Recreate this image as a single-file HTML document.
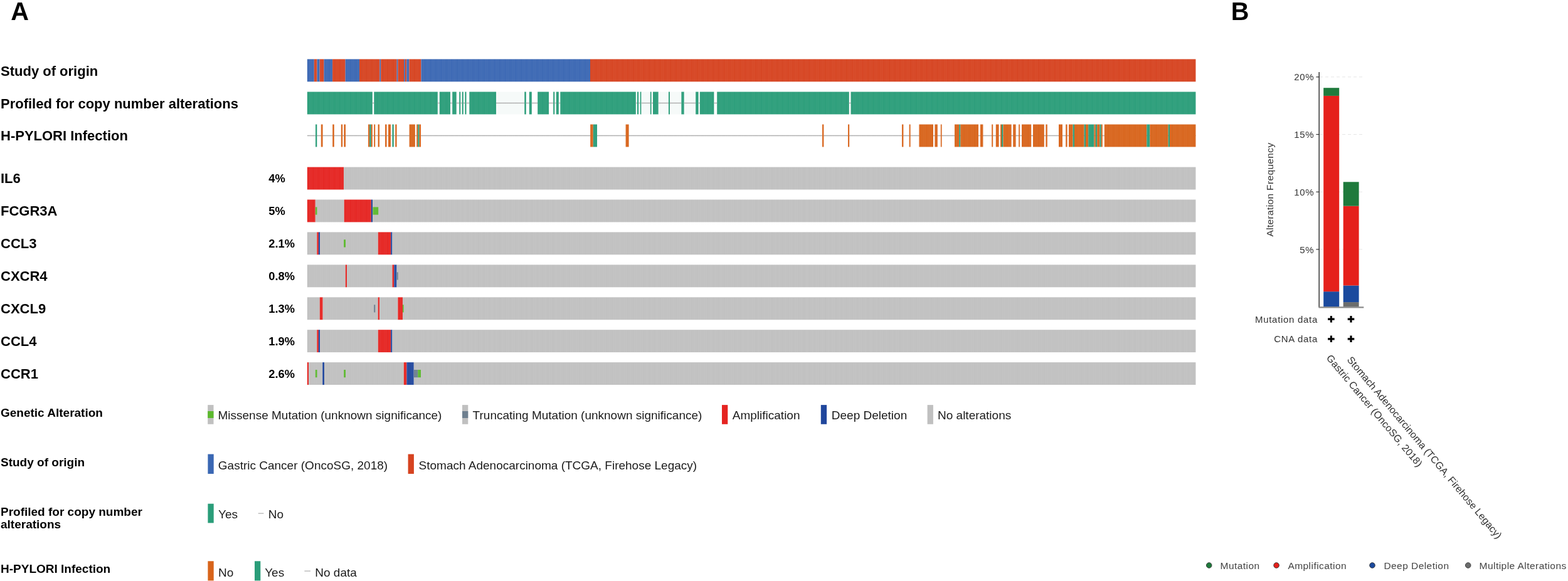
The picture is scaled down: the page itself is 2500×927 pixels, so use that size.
<!DOCTYPE html>
<html><head><meta charset="utf-8"><title>Oncoprint</title>
<style>
html,body{margin:0;padding:0;background:#fff;}
body{width:2500px;height:927px;overflow:hidden;}
svg{display:block;font-family:"Liberation Sans",Arial,sans-serif;}
</style></head><body>
<svg width="2500" height="927" viewBox="0 0 2500 927" shape-rendering="auto">
<rect width="2500" height="927" fill="#fff"/>
<text x="17.3" y="31.9" font-size="39.8" font-weight="bold" fill="#000" text-anchor="start">A</text>
<text x="1962.8" y="32.0" font-size="39.8" font-weight="bold" fill="#000" text-anchor="start">B</text>
<text x="1.0" y="120.5" font-size="22" font-weight="bold" fill="#000" text-anchor="start">Study of origin</text>
<text x="1.0" y="172.8" font-size="22" font-weight="bold" fill="#000" text-anchor="start">Profiled for copy number alterations</text>
<text x="1.0" y="224.3" font-size="22" font-weight="bold" fill="#000" text-anchor="start">H-PYLORI Infection</text>
<text x="1.0" y="292.3" font-size="22" font-weight="bold" fill="#000" text-anchor="start">IL6</text>
<text x="428.3" y="291.1" font-size="18.3" font-weight="bold" fill="#000" text-anchor="start">4%</text>
<text x="1.0" y="344.22" font-size="22" font-weight="bold" fill="#000" text-anchor="start">FCGR3A</text>
<text x="428.3" y="343.02000000000004" font-size="18.3" font-weight="bold" fill="#000" text-anchor="start">5%</text>
<text x="1.0" y="396.14" font-size="22" font-weight="bold" fill="#000" text-anchor="start">CCL3</text>
<text x="428.3" y="394.94" font-size="18.3" font-weight="bold" fill="#000" text-anchor="start">2.1%</text>
<text x="1.0" y="448.06" font-size="22" font-weight="bold" fill="#000" text-anchor="start">CXCR4</text>
<text x="428.3" y="446.86" font-size="18.3" font-weight="bold" fill="#000" text-anchor="start">0.8%</text>
<text x="1.0" y="499.98" font-size="22" font-weight="bold" fill="#000" text-anchor="start">CXCL9</text>
<text x="428.3" y="498.78000000000003" font-size="18.3" font-weight="bold" fill="#000" text-anchor="start">1.3%</text>
<text x="1.0" y="551.9000000000001" font-size="22" font-weight="bold" fill="#000" text-anchor="start">CCL4</text>
<text x="428.3" y="550.7" font-size="18.3" font-weight="bold" fill="#000" text-anchor="start">1.9%</text>
<text x="1.0" y="603.8199999999999" font-size="22" font-weight="bold" fill="#000" text-anchor="start">CCR1</text>
<text x="428.3" y="602.6199999999999" font-size="18.3" font-weight="bold" fill="#000" text-anchor="start">2.6%</text>
<rect x="489.9" y="94.4" width="10.9" height="35.9" fill="#3a67b3"/>
<rect x="500.8" y="94.4" width="4.7" height="35.9" fill="#d64320"/>
<rect x="505.5" y="94.4" width="4.2" height="35.9" fill="#3a67b3"/>
<rect x="509.7" y="94.4" width="6.8" height="35.9" fill="#d64320"/>
<rect x="516.5" y="94.4" width="13.6" height="35.9" fill="#3a67b3"/>
<rect x="530.1" y="94.4" width="20.5" height="35.9" fill="#d64320"/>
<rect x="550.6" y="94.4" width="22.4" height="35.9" fill="#3a67b3"/>
<rect x="573.0" y="94.4" width="32.4" height="35.9" fill="#d64320"/>
<rect x="605.4" y="94.4" width="1.8" height="35.9" fill="#3a67b3"/>
<rect x="607.2" y="94.4" width="25.5" height="35.9" fill="#d64320"/>
<rect x="632.7" y="94.4" width="1.8" height="35.9" fill="#3a67b3"/>
<rect x="634.5" y="94.4" width="9.6" height="35.9" fill="#d64320"/>
<rect x="644.1" y="94.4" width="1.8" height="35.9" fill="#3a67b3"/>
<rect x="645.9" y="94.4" width="2.4" height="35.9" fill="#d64320"/>
<rect x="648.3" y="94.4" width="4.2" height="35.9" fill="#3a67b3"/>
<rect x="652.5" y="94.4" width="18.9" height="35.9" fill="#d64320"/>
<rect x="671.4" y="94.4" width="269.6" height="35.9" fill="#3a67b3"/>
<rect x="941.0" y="94.4" width="965.4" height="35.9" fill="#d64320"/>
<rect x="489.9" y="146.5" width="103.9" height="35.9" fill="#2a9d79"/>
<rect x="593.8" y="163.7" width="2.5" height="1.5" fill="#adadad"/>
<rect x="596.3" y="146.5" width="101.5" height="35.9" fill="#2a9d79"/>
<rect x="697.8" y="163.7" width="3.0" height="1.5" fill="#adadad"/>
<rect x="700.8" y="146.5" width="17.2" height="35.9" fill="#2a9d79"/>
<rect x="718.0" y="163.7" width="3.2" height="1.5" fill="#adadad"/>
<rect x="721.2" y="146.5" width="6.5" height="35.9" fill="#2a9d79"/>
<rect x="727.7" y="163.7" width="4.5" height="1.5" fill="#adadad"/>
<rect x="732.2" y="146.5" width="2.1" height="35.9" fill="#2a9d79"/>
<rect x="734.3" y="163.7" width="2.4" height="1.5" fill="#adadad"/>
<rect x="736.7" y="146.5" width="2.1" height="35.9" fill="#2a9d79"/>
<rect x="738.8" y="163.7" width="2.5" height="1.5" fill="#adadad"/>
<rect x="741.3" y="146.5" width="2.2" height="35.9" fill="#2a9d79"/>
<rect x="743.5" y="163.7" width="4.8" height="1.5" fill="#adadad"/>
<rect x="748.3" y="146.5" width="42.7" height="35.9" fill="#2a9d79"/>
<rect x="791.0" y="146.5" width="45.2" height="35.9" fill="#f6faf9"/>
<rect x="791.0" y="163.7" width="45.2" height="1.5" fill="#adadad"/>
<rect x="836.2" y="146.5" width="2.6" height="35.9" fill="#2a9d79"/>
<rect x="838.8" y="163.7" width="5.0" height="1.5" fill="#adadad"/>
<rect x="843.8" y="146.5" width="4.0" height="35.9" fill="#2a9d79"/>
<rect x="847.8" y="163.7" width="9.4" height="1.5" fill="#adadad"/>
<rect x="857.2" y="146.5" width="17.8" height="35.9" fill="#2a9d79"/>
<rect x="875.0" y="163.7" width="7.2" height="1.5" fill="#adadad"/>
<rect x="882.2" y="146.5" width="2.1" height="35.9" fill="#2a9d79"/>
<rect x="884.3" y="163.7" width="2.5" height="1.5" fill="#adadad"/>
<rect x="886.8" y="146.5" width="4.0" height="35.9" fill="#2a9d79"/>
<rect x="890.8" y="163.7" width="2.5" height="1.5" fill="#adadad"/>
<rect x="893.3" y="146.5" width="120.5" height="35.9" fill="#2a9d79"/>
<rect x="1013.8" y="163.7" width="2.2" height="1.5" fill="#adadad"/>
<rect x="1016.0" y="146.5" width="2.2" height="35.9" fill="#2a9d79"/>
<rect x="1018.2" y="163.7" width="2.4" height="1.5" fill="#adadad"/>
<rect x="1020.6" y="146.5" width="2.0" height="35.9" fill="#2a9d79"/>
<rect x="1022.6" y="146.5" width="14.2" height="35.9" fill="#f6faf9"/>
<rect x="1022.6" y="163.7" width="14.2" height="1.5" fill="#adadad"/>
<rect x="1036.8" y="146.5" width="1.8" height="35.9" fill="#2a9d79"/>
<rect x="1038.6" y="163.7" width="2.4" height="1.5" fill="#adadad"/>
<rect x="1041.0" y="146.5" width="8.8" height="35.9" fill="#2a9d79"/>
<rect x="1049.8" y="146.5" width="16.2" height="35.9" fill="#f6faf9"/>
<rect x="1049.8" y="163.7" width="16.2" height="1.5" fill="#adadad"/>
<rect x="1066.0" y="146.5" width="2.0" height="35.9" fill="#2a9d79"/>
<rect x="1068.0" y="146.5" width="18.4" height="35.9" fill="#f6faf9"/>
<rect x="1068.0" y="163.7" width="18.4" height="1.5" fill="#adadad"/>
<rect x="1086.4" y="146.5" width="4.4" height="35.9" fill="#2a9d79"/>
<rect x="1090.8" y="146.5" width="18.4" height="35.9" fill="#f6faf9"/>
<rect x="1090.8" y="163.7" width="18.4" height="1.5" fill="#adadad"/>
<rect x="1109.2" y="146.5" width="4.4" height="35.9" fill="#2a9d79"/>
<rect x="1113.6" y="163.7" width="2.2" height="1.5" fill="#adadad"/>
<rect x="1115.8" y="146.5" width="22.6" height="35.9" fill="#2a9d79"/>
<rect x="1138.4" y="163.7" width="4.8" height="1.5" fill="#adadad"/>
<rect x="1143.2" y="146.5" width="210.6" height="35.9" fill="#2a9d79"/>
<rect x="1353.8" y="163.7" width="2.7" height="1.5" fill="#adadad"/>
<rect x="1356.5" y="146.5" width="549.9" height="35.9" fill="#2a9d79"/>
<rect x="489.9" y="215.7" width="1416.5" height="1.5" fill="#adadad"/>
<rect x="503.0" y="198.5" width="2.4" height="35.9" fill="#2a9d79"/>
<rect x="511.8" y="198.5" width="2.8" height="35.9" fill="#d8641b"/>
<rect x="530.2" y="198.5" width="2.6" height="35.9" fill="#d8641b"/>
<rect x="543.8" y="198.5" width="2.4" height="35.9" fill="#d8641b"/>
<rect x="548.4" y="198.5" width="2.6" height="35.9" fill="#d8641b"/>
<rect x="587.0" y="198.5" width="2.2" height="35.9" fill="#d8641b"/>
<rect x="589.2" y="198.5" width="2.6" height="35.9" fill="#2a9d79"/>
<rect x="591.8" y="198.5" width="2.0" height="35.9" fill="#d8641b"/>
<rect x="596.2" y="198.5" width="2.0" height="35.9" fill="#d8641b"/>
<rect x="602.6" y="198.5" width="2.4" height="35.9" fill="#d8641b"/>
<rect x="614.0" y="198.5" width="2.6" height="35.9" fill="#d8641b"/>
<rect x="619.0" y="198.5" width="4.0" height="35.9" fill="#d8641b"/>
<rect x="625.4" y="198.5" width="2.4" height="35.9" fill="#2a9d79"/>
<rect x="630.2" y="198.5" width="2.4" height="35.9" fill="#d8641b"/>
<rect x="652.6" y="198.5" width="9.2" height="35.9" fill="#d8641b"/>
<rect x="664.2" y="198.5" width="2.0" height="35.9" fill="#d8641b"/>
<rect x="666.2" y="198.5" width="2.4" height="35.9" fill="#2a9d79"/>
<rect x="668.6" y="198.5" width="2.4" height="35.9" fill="#d8641b"/>
<rect x="941.2" y="198.5" width="4.6" height="35.9" fill="#d8641b"/>
<rect x="945.8" y="198.5" width="6.2" height="35.9" fill="#2a9d79"/>
<rect x="997.6" y="198.5" width="5.0" height="35.9" fill="#d8641b"/>
<rect x="1311.0" y="198.5" width="2.4" height="35.9" fill="#d8641b"/>
<rect x="1352.0" y="198.5" width="2.2" height="35.9" fill="#d8641b"/>
<rect x="1438.0" y="198.5" width="2.4" height="35.9" fill="#d8641b"/>
<rect x="1449.6" y="198.5" width="2.0" height="35.9" fill="#d8641b"/>
<rect x="1465.4" y="198.5" width="22.6" height="35.9" fill="#d8641b"/>
<rect x="1490.4" y="198.5" width="4.4" height="35.9" fill="#d8641b"/>
<rect x="1499.8" y="198.5" width="1.8" height="35.9" fill="#d8641b"/>
<rect x="1522.0" y="198.5" width="7.2" height="35.9" fill="#d8641b"/>
<rect x="1529.2" y="198.5" width="2.2" height="35.9" fill="#2a9d79"/>
<rect x="1531.4" y="198.5" width="28.6" height="35.9" fill="#d8641b"/>
<rect x="1563.0" y="198.5" width="4.4" height="35.9" fill="#d8641b"/>
<rect x="1581.2" y="198.5" width="2.0" height="35.9" fill="#d8641b"/>
<rect x="1587.8" y="198.5" width="4.8" height="35.9" fill="#d8641b"/>
<rect x="1595.0" y="198.5" width="2.0" height="35.9" fill="#d8641b"/>
<rect x="1597.0" y="198.5" width="2.4" height="35.9" fill="#2a9d79"/>
<rect x="1599.4" y="198.5" width="13.2" height="35.9" fill="#d8641b"/>
<rect x="1615.2" y="198.5" width="4.4" height="35.9" fill="#d8641b"/>
<rect x="1624.2" y="198.5" width="1.8" height="35.9" fill="#d8641b"/>
<rect x="1629.0" y="198.5" width="15.2" height="35.9" fill="#d8641b"/>
<rect x="1647.0" y="198.5" width="17.8" height="35.9" fill="#d8641b"/>
<rect x="1667.4" y="198.5" width="2.4" height="35.9" fill="#d8641b"/>
<rect x="1688.0" y="198.5" width="6.0" height="35.9" fill="#d8641b"/>
<rect x="1699.2" y="198.5" width="2.4" height="35.9" fill="#d8641b"/>
<rect x="1704.0" y="198.5" width="6.6" height="35.9" fill="#d8641b"/>
<rect x="1710.6" y="198.5" width="2.4" height="35.9" fill="#2a9d79"/>
<rect x="1713.0" y="198.5" width="15.6" height="35.9" fill="#d8641b"/>
<rect x="1728.6" y="198.5" width="2.4" height="35.9" fill="#2a9d79"/>
<rect x="1731.0" y="198.5" width="4.2" height="35.9" fill="#d8641b"/>
<rect x="1735.2" y="198.5" width="9.2" height="35.9" fill="#2a9d79"/>
<rect x="1744.4" y="198.5" width="2.4" height="35.9" fill="#d8641b"/>
<rect x="1746.8" y="198.5" width="2.4" height="35.9" fill="#2a9d79"/>
<rect x="1749.2" y="198.5" width="4.2" height="35.9" fill="#d8641b"/>
<rect x="1753.4" y="198.5" width="2.4" height="35.9" fill="#2a9d79"/>
<rect x="1755.8" y="198.5" width="2.0" height="35.9" fill="#d8641b"/>
<rect x="1760.8" y="198.5" width="67.5" height="35.9" fill="#d8641b"/>
<rect x="1828.3" y="198.5" width="5.0" height="35.9" fill="#2a9d79"/>
<rect x="1833.3" y="198.5" width="29.4" height="35.9" fill="#d8641b"/>
<rect x="1862.7" y="198.5" width="2.3" height="35.9" fill="#2a9d79"/>
<rect x="1865.0" y="198.5" width="41.4" height="35.9" fill="#d8641b"/>
<rect x="489.9" y="266.6" width="58.2" height="35.9" fill="#e52421"/>
<rect x="548.1" y="266.6" width="1358.3" height="35.9" fill="#c0c0c0"/>
<rect x="489.9" y="318.5" width="12.9" height="35.9" fill="#e52421"/>
<rect x="502.8" y="318.5" width="45.9" height="35.9" fill="#c0c0c0"/>
<rect x="548.7" y="318.5" width="43.1" height="35.9" fill="#e52421"/>
<rect x="591.8" y="318.5" width="2.2" height="35.9" fill="#21479d"/>
<rect x="594.0" y="318.5" width="1312.4" height="35.9" fill="#c0c0c0"/>
<rect x="502.8" y="330.4" width="2.7" height="12.2" fill="#5cb92e"/>
<rect x="594.5" y="330.4" width="8.7" height="12.2" fill="#5cb92e"/>
<rect x="489.9" y="370.4" width="15.4" height="35.9" fill="#c0c0c0"/>
<rect x="505.3" y="370.4" width="2.6" height="35.9" fill="#e52421"/>
<rect x="507.9" y="370.4" width="2.5" height="35.9" fill="#21479d"/>
<rect x="510.4" y="370.4" width="92.4" height="35.9" fill="#c0c0c0"/>
<rect x="602.8" y="370.4" width="20.3" height="35.9" fill="#e52421"/>
<rect x="623.1" y="370.4" width="2.4" height="35.9" fill="#21479d"/>
<rect x="625.5" y="370.4" width="1280.9" height="35.9" fill="#c0c0c0"/>
<rect x="548.1" y="382.3" width="2.9" height="12.2" fill="#5cb92e"/>
<rect x="489.9" y="422.4" width="60.9" height="35.9" fill="#c0c0c0"/>
<rect x="550.8" y="422.4" width="2.2" height="35.9" fill="#e52421"/>
<rect x="553.0" y="422.4" width="72.5" height="35.9" fill="#c0c0c0"/>
<rect x="625.5" y="422.4" width="2.8" height="35.9" fill="#e52421"/>
<rect x="628.3" y="422.4" width="4.3" height="35.9" fill="#21479d"/>
<rect x="632.6" y="422.4" width="1273.8" height="35.9" fill="#c0c0c0"/>
<rect x="632.6" y="434.3" width="2.1" height="12.2" fill="#6e7f8f"/>
<rect x="489.9" y="474.3" width="19.9" height="35.9" fill="#c0c0c0"/>
<rect x="509.8" y="474.3" width="4.9" height="35.9" fill="#e52421"/>
<rect x="514.7" y="474.3" width="87.9" height="35.9" fill="#c0c0c0"/>
<rect x="602.6" y="474.3" width="2.7" height="35.9" fill="#e52421"/>
<rect x="605.3" y="474.3" width="29.1" height="35.9" fill="#c0c0c0"/>
<rect x="634.4" y="474.3" width="7.6" height="35.9" fill="#e52421"/>
<rect x="642.0" y="474.3" width="1264.4" height="35.9" fill="#c0c0c0"/>
<rect x="596.1" y="486.2" width="2.2" height="12.2" fill="#6e7f8f"/>
<rect x="642.0" y="486.2" width="1.6" height="12.2" fill="#5cb92e"/>
<rect x="489.9" y="526.2" width="15.4" height="35.9" fill="#c0c0c0"/>
<rect x="505.3" y="526.2" width="2.6" height="35.9" fill="#e52421"/>
<rect x="507.9" y="526.2" width="2.5" height="35.9" fill="#21479d"/>
<rect x="510.4" y="526.2" width="92.4" height="35.9" fill="#c0c0c0"/>
<rect x="602.8" y="526.2" width="20.3" height="35.9" fill="#e52421"/>
<rect x="623.1" y="526.2" width="2.4" height="35.9" fill="#21479d"/>
<rect x="625.5" y="526.2" width="1280.9" height="35.9" fill="#c0c0c0"/>
<rect x="489.9" y="578.1" width="2.1" height="35.9" fill="#e52421"/>
<rect x="492.0" y="578.1" width="22.2" height="35.9" fill="#c0c0c0"/>
<rect x="514.2" y="578.1" width="2.8" height="35.9" fill="#21479d"/>
<rect x="517.0" y="578.1" width="126.8" height="35.9" fill="#c0c0c0"/>
<rect x="643.8" y="578.1" width="4.6" height="35.9" fill="#e52421"/>
<rect x="648.4" y="578.1" width="11.4" height="35.9" fill="#21479d"/>
<rect x="659.8" y="578.1" width="1246.6" height="35.9" fill="#c0c0c0"/>
<rect x="502.8" y="590.0" width="2.8" height="12.2" fill="#5cb92e"/>
<rect x="548.2" y="590.0" width="2.8" height="12.2" fill="#5cb92e"/>
<rect x="659.8" y="590.0" width="6.4" height="12.2" fill="#6e7f8f"/>
<rect x="666.2" y="590.0" width="4.8" height="12.2" fill="#5cb92e"/>
<defs><clipPath id="tc"><rect x="489.9" y="94.4" width="1416.5" height="35.9"/><rect x="489.9" y="146.5" width="1416.5" height="35.9"/><rect x="489.9" y="198.5" width="1416.5" height="35.9"/><rect x="489.9" y="266.6" width="1416.5" height="35.9"/><rect x="489.9" y="318.5" width="1416.5" height="35.9"/><rect x="489.9" y="370.4" width="1416.5" height="35.9"/><rect x="489.9" y="422.4" width="1416.5" height="35.9"/><rect x="489.9" y="474.3" width="1416.5" height="35.9"/><rect x="489.9" y="526.2" width="1416.5" height="35.9"/><rect x="489.9" y="578.1" width="1416.5" height="35.9"/></clipPath></defs>
<path d="M491.97 94V615h0.4V94zM494.23 94V615h0.4V94zM496.50 94V615h0.4V94zM498.77 94V615h0.4V94zM501.03 94V615h0.4V94zM503.30 94V615h0.4V94zM505.56 94V615h0.4V94zM507.83 94V615h0.4V94zM510.10 94V615h0.4V94zM512.36 94V615h0.4V94zM514.63 94V615h0.4V94zM516.90 94V615h0.4V94zM519.16 94V615h0.4V94zM521.43 94V615h0.4V94zM523.70 94V615h0.4V94zM525.96 94V615h0.4V94zM528.23 94V615h0.4V94zM530.50 94V615h0.4V94zM532.76 94V615h0.4V94zM535.03 94V615h0.4V94zM537.29 94V615h0.4V94zM539.56 94V615h0.4V94zM541.83 94V615h0.4V94zM544.09 94V615h0.4V94zM546.36 94V615h0.4V94zM548.63 94V615h0.4V94zM550.89 94V615h0.4V94zM553.16 94V615h0.4V94zM555.43 94V615h0.4V94zM557.69 94V615h0.4V94zM559.96 94V615h0.4V94zM562.22 94V615h0.4V94zM564.49 94V615h0.4V94zM566.76 94V615h0.4V94zM569.02 94V615h0.4V94zM571.29 94V615h0.4V94zM573.56 94V615h0.4V94zM575.82 94V615h0.4V94zM578.09 94V615h0.4V94zM580.36 94V615h0.4V94zM582.62 94V615h0.4V94zM584.89 94V615h0.4V94zM587.16 94V615h0.4V94zM589.42 94V615h0.4V94zM591.69 94V615h0.4V94zM593.95 94V615h0.4V94zM596.22 94V615h0.4V94zM598.49 94V615h0.4V94zM600.75 94V615h0.4V94zM603.02 94V615h0.4V94zM605.29 94V615h0.4V94zM607.55 94V615h0.4V94zM609.82 94V615h0.4V94zM612.09 94V615h0.4V94zM614.35 94V615h0.4V94zM616.62 94V615h0.4V94zM618.88 94V615h0.4V94zM621.15 94V615h0.4V94zM623.42 94V615h0.4V94zM625.68 94V615h0.4V94zM627.95 94V615h0.4V94zM630.22 94V615h0.4V94zM632.48 94V615h0.4V94zM634.75 94V615h0.4V94zM637.02 94V615h0.4V94zM639.28 94V615h0.4V94zM641.55 94V615h0.4V94zM643.82 94V615h0.4V94zM646.08 94V615h0.4V94zM648.35 94V615h0.4V94zM650.61 94V615h0.4V94zM652.88 94V615h0.4V94zM655.15 94V615h0.4V94zM657.41 94V615h0.4V94zM659.68 94V615h0.4V94zM661.95 94V615h0.4V94zM664.21 94V615h0.4V94zM666.48 94V615h0.4V94zM668.75 94V615h0.4V94zM671.01 94V615h0.4V94zM673.28 94V615h0.4V94zM675.54 94V615h0.4V94zM677.81 94V615h0.4V94zM680.08 94V615h0.4V94zM682.34 94V615h0.4V94zM684.61 94V615h0.4V94zM686.88 94V615h0.4V94zM689.14 94V615h0.4V94zM691.41 94V615h0.4V94zM693.68 94V615h0.4V94zM695.94 94V615h0.4V94zM698.21 94V615h0.4V94zM700.48 94V615h0.4V94zM702.74 94V615h0.4V94zM705.01 94V615h0.4V94zM707.27 94V615h0.4V94zM709.54 94V615h0.4V94zM711.81 94V615h0.4V94zM714.07 94V615h0.4V94zM716.34 94V615h0.4V94zM718.61 94V615h0.4V94zM720.87 94V615h0.4V94zM723.14 94V615h0.4V94zM725.41 94V615h0.4V94zM727.67 94V615h0.4V94zM729.94 94V615h0.4V94zM732.20 94V615h0.4V94zM734.47 94V615h0.4V94zM736.74 94V615h0.4V94zM739.00 94V615h0.4V94zM741.27 94V615h0.4V94zM743.54 94V615h0.4V94zM745.80 94V615h0.4V94zM748.07 94V615h0.4V94zM750.34 94V615h0.4V94zM752.60 94V615h0.4V94zM754.87 94V615h0.4V94zM757.14 94V615h0.4V94zM759.40 94V615h0.4V94zM761.67 94V615h0.4V94zM763.93 94V615h0.4V94zM766.20 94V615h0.4V94zM768.47 94V615h0.4V94zM770.73 94V615h0.4V94zM773.00 94V615h0.4V94zM775.27 94V615h0.4V94zM777.53 94V615h0.4V94zM779.80 94V615h0.4V94zM782.07 94V615h0.4V94zM784.33 94V615h0.4V94zM786.60 94V615h0.4V94zM788.86 94V615h0.4V94zM791.13 94V615h0.4V94zM793.40 94V615h0.4V94zM795.66 94V615h0.4V94zM797.93 94V615h0.4V94zM800.20 94V615h0.4V94zM802.46 94V615h0.4V94zM804.73 94V615h0.4V94zM807.00 94V615h0.4V94zM809.26 94V615h0.4V94zM811.53 94V615h0.4V94zM813.80 94V615h0.4V94zM816.06 94V615h0.4V94zM818.33 94V615h0.4V94zM820.59 94V615h0.4V94zM822.86 94V615h0.4V94zM825.13 94V615h0.4V94zM827.39 94V615h0.4V94zM829.66 94V615h0.4V94zM831.93 94V615h0.4V94zM834.19 94V615h0.4V94zM836.46 94V615h0.4V94zM838.73 94V615h0.4V94zM840.99 94V615h0.4V94zM843.26 94V615h0.4V94zM845.52 94V615h0.4V94zM847.79 94V615h0.4V94zM850.06 94V615h0.4V94zM852.32 94V615h0.4V94zM854.59 94V615h0.4V94zM856.86 94V615h0.4V94zM859.12 94V615h0.4V94zM861.39 94V615h0.4V94zM863.66 94V615h0.4V94zM865.92 94V615h0.4V94zM868.19 94V615h0.4V94zM870.46 94V615h0.4V94zM872.72 94V615h0.4V94zM874.99 94V615h0.4V94zM877.25 94V615h0.4V94zM879.52 94V615h0.4V94zM881.79 94V615h0.4V94zM884.05 94V615h0.4V94zM886.32 94V615h0.4V94zM888.59 94V615h0.4V94zM890.85 94V615h0.4V94zM893.12 94V615h0.4V94zM895.39 94V615h0.4V94zM897.65 94V615h0.4V94zM899.92 94V615h0.4V94zM902.18 94V615h0.4V94zM904.45 94V615h0.4V94zM906.72 94V615h0.4V94zM908.98 94V615h0.4V94zM911.25 94V615h0.4V94zM913.52 94V615h0.4V94zM915.78 94V615h0.4V94zM918.05 94V615h0.4V94zM920.32 94V615h0.4V94zM922.58 94V615h0.4V94zM924.85 94V615h0.4V94zM927.12 94V615h0.4V94zM929.38 94V615h0.4V94zM931.65 94V615h0.4V94zM933.91 94V615h0.4V94zM936.18 94V615h0.4V94zM938.45 94V615h0.4V94zM940.71 94V615h0.4V94zM942.98 94V615h0.4V94zM945.25 94V615h0.4V94zM947.51 94V615h0.4V94zM949.78 94V615h0.4V94zM952.05 94V615h0.4V94zM954.31 94V615h0.4V94zM956.58 94V615h0.4V94zM958.84 94V615h0.4V94zM961.11 94V615h0.4V94zM963.38 94V615h0.4V94zM965.64 94V615h0.4V94zM967.91 94V615h0.4V94zM970.18 94V615h0.4V94zM972.44 94V615h0.4V94zM974.71 94V615h0.4V94zM976.98 94V615h0.4V94zM979.24 94V615h0.4V94zM981.51 94V615h0.4V94zM983.78 94V615h0.4V94zM986.04 94V615h0.4V94zM988.31 94V615h0.4V94zM990.57 94V615h0.4V94zM992.84 94V615h0.4V94zM995.11 94V615h0.4V94zM997.37 94V615h0.4V94zM999.64 94V615h0.4V94zM1001.91 94V615h0.4V94zM1004.17 94V615h0.4V94zM1006.44 94V615h0.4V94zM1008.71 94V615h0.4V94zM1010.97 94V615h0.4V94zM1013.24 94V615h0.4V94zM1015.50 94V615h0.4V94zM1017.77 94V615h0.4V94zM1020.04 94V615h0.4V94zM1022.30 94V615h0.4V94zM1024.57 94V615h0.4V94zM1026.84 94V615h0.4V94zM1029.10 94V615h0.4V94zM1031.37 94V615h0.4V94zM1033.64 94V615h0.4V94zM1035.90 94V615h0.4V94zM1038.17 94V615h0.4V94zM1040.44 94V615h0.4V94zM1042.70 94V615h0.4V94zM1044.97 94V615h0.4V94zM1047.23 94V615h0.4V94zM1049.50 94V615h0.4V94zM1051.77 94V615h0.4V94zM1054.03 94V615h0.4V94zM1056.30 94V615h0.4V94zM1058.57 94V615h0.4V94zM1060.83 94V615h0.4V94zM1063.10 94V615h0.4V94zM1065.37 94V615h0.4V94zM1067.63 94V615h0.4V94zM1069.90 94V615h0.4V94zM1072.16 94V615h0.4V94zM1074.43 94V615h0.4V94zM1076.70 94V615h0.4V94zM1078.96 94V615h0.4V94zM1081.23 94V615h0.4V94zM1083.50 94V615h0.4V94zM1085.76 94V615h0.4V94zM1088.03 94V615h0.4V94zM1090.30 94V615h0.4V94zM1092.56 94V615h0.4V94zM1094.83 94V615h0.4V94zM1097.10 94V615h0.4V94zM1099.36 94V615h0.4V94zM1101.63 94V615h0.4V94zM1103.89 94V615h0.4V94zM1106.16 94V615h0.4V94zM1108.43 94V615h0.4V94zM1110.69 94V615h0.4V94zM1112.96 94V615h0.4V94zM1115.23 94V615h0.4V94zM1117.49 94V615h0.4V94zM1119.76 94V615h0.4V94zM1122.03 94V615h0.4V94zM1124.29 94V615h0.4V94zM1126.56 94V615h0.4V94zM1128.82 94V615h0.4V94zM1131.09 94V615h0.4V94zM1133.36 94V615h0.4V94zM1135.62 94V615h0.4V94zM1137.89 94V615h0.4V94zM1140.16 94V615h0.4V94zM1142.42 94V615h0.4V94zM1144.69 94V615h0.4V94zM1146.96 94V615h0.4V94zM1149.22 94V615h0.4V94zM1151.49 94V615h0.4V94zM1153.76 94V615h0.4V94zM1156.02 94V615h0.4V94zM1158.29 94V615h0.4V94zM1160.55 94V615h0.4V94zM1162.82 94V615h0.4V94zM1165.09 94V615h0.4V94zM1167.35 94V615h0.4V94zM1169.62 94V615h0.4V94zM1171.89 94V615h0.4V94zM1174.15 94V615h0.4V94zM1176.42 94V615h0.4V94zM1178.69 94V615h0.4V94zM1180.95 94V615h0.4V94zM1183.22 94V615h0.4V94zM1185.48 94V615h0.4V94zM1187.75 94V615h0.4V94zM1190.02 94V615h0.4V94zM1192.28 94V615h0.4V94zM1194.55 94V615h0.4V94zM1196.82 94V615h0.4V94zM1199.08 94V615h0.4V94zM1201.35 94V615h0.4V94zM1203.62 94V615h0.4V94zM1205.88 94V615h0.4V94zM1208.15 94V615h0.4V94zM1210.42 94V615h0.4V94zM1212.68 94V615h0.4V94zM1214.95 94V615h0.4V94zM1217.21 94V615h0.4V94zM1219.48 94V615h0.4V94zM1221.75 94V615h0.4V94zM1224.01 94V615h0.4V94zM1226.28 94V615h0.4V94zM1228.55 94V615h0.4V94zM1230.81 94V615h0.4V94zM1233.08 94V615h0.4V94zM1235.35 94V615h0.4V94zM1237.61 94V615h0.4V94zM1239.88 94V615h0.4V94zM1242.14 94V615h0.4V94zM1244.41 94V615h0.4V94zM1246.68 94V615h0.4V94zM1248.94 94V615h0.4V94zM1251.21 94V615h0.4V94zM1253.48 94V615h0.4V94zM1255.74 94V615h0.4V94zM1258.01 94V615h0.4V94zM1260.28 94V615h0.4V94zM1262.54 94V615h0.4V94zM1264.81 94V615h0.4V94zM1267.08 94V615h0.4V94zM1269.34 94V615h0.4V94zM1271.61 94V615h0.4V94zM1273.87 94V615h0.4V94zM1276.14 94V615h0.4V94zM1278.41 94V615h0.4V94zM1280.67 94V615h0.4V94zM1282.94 94V615h0.4V94zM1285.21 94V615h0.4V94zM1287.47 94V615h0.4V94zM1289.74 94V615h0.4V94zM1292.01 94V615h0.4V94zM1294.27 94V615h0.4V94zM1296.54 94V615h0.4V94zM1298.80 94V615h0.4V94zM1301.07 94V615h0.4V94zM1303.34 94V615h0.4V94zM1305.60 94V615h0.4V94zM1307.87 94V615h0.4V94zM1310.14 94V615h0.4V94zM1312.40 94V615h0.4V94zM1314.67 94V615h0.4V94zM1316.94 94V615h0.4V94zM1319.20 94V615h0.4V94zM1321.47 94V615h0.4V94zM1323.74 94V615h0.4V94zM1326.00 94V615h0.4V94zM1328.27 94V615h0.4V94zM1330.53 94V615h0.4V94zM1332.80 94V615h0.4V94zM1335.07 94V615h0.4V94zM1337.33 94V615h0.4V94zM1339.60 94V615h0.4V94zM1341.87 94V615h0.4V94zM1344.13 94V615h0.4V94zM1346.40 94V615h0.4V94zM1348.67 94V615h0.4V94zM1350.93 94V615h0.4V94zM1353.20 94V615h0.4V94zM1355.46 94V615h0.4V94zM1357.73 94V615h0.4V94zM1360.00 94V615h0.4V94zM1362.26 94V615h0.4V94zM1364.53 94V615h0.4V94zM1366.80 94V615h0.4V94zM1369.06 94V615h0.4V94zM1371.33 94V615h0.4V94zM1373.60 94V615h0.4V94zM1375.86 94V615h0.4V94zM1378.13 94V615h0.4V94zM1380.40 94V615h0.4V94zM1382.66 94V615h0.4V94zM1384.93 94V615h0.4V94zM1387.19 94V615h0.4V94zM1389.46 94V615h0.4V94zM1391.73 94V615h0.4V94zM1393.99 94V615h0.4V94zM1396.26 94V615h0.4V94zM1398.53 94V615h0.4V94zM1400.79 94V615h0.4V94zM1403.06 94V615h0.4V94zM1405.33 94V615h0.4V94zM1407.59 94V615h0.4V94zM1409.86 94V615h0.4V94zM1412.12 94V615h0.4V94zM1414.39 94V615h0.4V94zM1416.66 94V615h0.4V94zM1418.92 94V615h0.4V94zM1421.19 94V615h0.4V94zM1423.46 94V615h0.4V94zM1425.72 94V615h0.4V94zM1427.99 94V615h0.4V94zM1430.26 94V615h0.4V94zM1432.52 94V615h0.4V94zM1434.79 94V615h0.4V94zM1437.06 94V615h0.4V94zM1439.32 94V615h0.4V94zM1441.59 94V615h0.4V94zM1443.85 94V615h0.4V94zM1446.12 94V615h0.4V94zM1448.39 94V615h0.4V94zM1450.65 94V615h0.4V94zM1452.92 94V615h0.4V94zM1455.19 94V615h0.4V94zM1457.45 94V615h0.4V94zM1459.72 94V615h0.4V94zM1461.99 94V615h0.4V94zM1464.25 94V615h0.4V94zM1466.52 94V615h0.4V94zM1468.78 94V615h0.4V94zM1471.05 94V615h0.4V94zM1473.32 94V615h0.4V94zM1475.58 94V615h0.4V94zM1477.85 94V615h0.4V94zM1480.12 94V615h0.4V94zM1482.38 94V615h0.4V94zM1484.65 94V615h0.4V94zM1486.92 94V615h0.4V94zM1489.18 94V615h0.4V94zM1491.45 94V615h0.4V94zM1493.72 94V615h0.4V94zM1495.98 94V615h0.4V94zM1498.25 94V615h0.4V94zM1500.51 94V615h0.4V94zM1502.78 94V615h0.4V94zM1505.05 94V615h0.4V94zM1507.31 94V615h0.4V94zM1509.58 94V615h0.4V94zM1511.85 94V615h0.4V94zM1514.11 94V615h0.4V94zM1516.38 94V615h0.4V94zM1518.65 94V615h0.4V94zM1520.91 94V615h0.4V94zM1523.18 94V615h0.4V94zM1525.44 94V615h0.4V94zM1527.71 94V615h0.4V94zM1529.98 94V615h0.4V94zM1532.24 94V615h0.4V94zM1534.51 94V615h0.4V94zM1536.78 94V615h0.4V94zM1539.04 94V615h0.4V94zM1541.31 94V615h0.4V94zM1543.58 94V615h0.4V94zM1545.84 94V615h0.4V94zM1548.11 94V615h0.4V94zM1550.38 94V615h0.4V94zM1552.64 94V615h0.4V94zM1554.91 94V615h0.4V94zM1557.17 94V615h0.4V94zM1559.44 94V615h0.4V94zM1561.71 94V615h0.4V94zM1563.97 94V615h0.4V94zM1566.24 94V615h0.4V94zM1568.51 94V615h0.4V94zM1570.77 94V615h0.4V94zM1573.04 94V615h0.4V94zM1575.31 94V615h0.4V94zM1577.57 94V615h0.4V94zM1579.84 94V615h0.4V94zM1582.10 94V615h0.4V94zM1584.37 94V615h0.4V94zM1586.64 94V615h0.4V94zM1588.90 94V615h0.4V94zM1591.17 94V615h0.4V94zM1593.44 94V615h0.4V94zM1595.70 94V615h0.4V94zM1597.97 94V615h0.4V94zM1600.24 94V615h0.4V94zM1602.50 94V615h0.4V94zM1604.77 94V615h0.4V94zM1607.04 94V615h0.4V94zM1609.30 94V615h0.4V94zM1611.57 94V615h0.4V94zM1613.83 94V615h0.4V94zM1616.10 94V615h0.4V94zM1618.37 94V615h0.4V94zM1620.63 94V615h0.4V94zM1622.90 94V615h0.4V94zM1625.17 94V615h0.4V94zM1627.43 94V615h0.4V94zM1629.70 94V615h0.4V94zM1631.97 94V615h0.4V94zM1634.23 94V615h0.4V94zM1636.50 94V615h0.4V94zM1638.76 94V615h0.4V94zM1641.03 94V615h0.4V94zM1643.30 94V615h0.4V94zM1645.56 94V615h0.4V94zM1647.83 94V615h0.4V94zM1650.10 94V615h0.4V94zM1652.36 94V615h0.4V94zM1654.63 94V615h0.4V94zM1656.90 94V615h0.4V94zM1659.16 94V615h0.4V94zM1661.43 94V615h0.4V94zM1663.70 94V615h0.4V94zM1665.96 94V615h0.4V94zM1668.23 94V615h0.4V94zM1670.49 94V615h0.4V94zM1672.76 94V615h0.4V94zM1675.03 94V615h0.4V94zM1677.29 94V615h0.4V94zM1679.56 94V615h0.4V94zM1681.83 94V615h0.4V94zM1684.09 94V615h0.4V94zM1686.36 94V615h0.4V94zM1688.63 94V615h0.4V94zM1690.89 94V615h0.4V94zM1693.16 94V615h0.4V94zM1695.42 94V615h0.4V94zM1697.69 94V615h0.4V94zM1699.96 94V615h0.4V94zM1702.22 94V615h0.4V94zM1704.49 94V615h0.4V94zM1706.76 94V615h0.4V94zM1709.02 94V615h0.4V94zM1711.29 94V615h0.4V94zM1713.56 94V615h0.4V94zM1715.82 94V615h0.4V94zM1718.09 94V615h0.4V94zM1720.36 94V615h0.4V94zM1722.62 94V615h0.4V94zM1724.89 94V615h0.4V94zM1727.15 94V615h0.4V94zM1729.42 94V615h0.4V94zM1731.69 94V615h0.4V94zM1733.95 94V615h0.4V94zM1736.22 94V615h0.4V94zM1738.49 94V615h0.4V94zM1740.75 94V615h0.4V94zM1743.02 94V615h0.4V94zM1745.29 94V615h0.4V94zM1747.55 94V615h0.4V94zM1749.82 94V615h0.4V94zM1752.08 94V615h0.4V94zM1754.35 94V615h0.4V94zM1756.62 94V615h0.4V94zM1758.88 94V615h0.4V94zM1761.15 94V615h0.4V94zM1763.42 94V615h0.4V94zM1765.68 94V615h0.4V94zM1767.95 94V615h0.4V94zM1770.22 94V615h0.4V94zM1772.48 94V615h0.4V94zM1774.75 94V615h0.4V94zM1777.02 94V615h0.4V94zM1779.28 94V615h0.4V94zM1781.55 94V615h0.4V94zM1783.81 94V615h0.4V94zM1786.08 94V615h0.4V94zM1788.35 94V615h0.4V94zM1790.61 94V615h0.4V94zM1792.88 94V615h0.4V94zM1795.15 94V615h0.4V94zM1797.41 94V615h0.4V94zM1799.68 94V615h0.4V94zM1801.95 94V615h0.4V94zM1804.21 94V615h0.4V94zM1806.48 94V615h0.4V94zM1808.74 94V615h0.4V94zM1811.01 94V615h0.4V94zM1813.28 94V615h0.4V94zM1815.54 94V615h0.4V94zM1817.81 94V615h0.4V94zM1820.08 94V615h0.4V94zM1822.34 94V615h0.4V94zM1824.61 94V615h0.4V94zM1826.88 94V615h0.4V94zM1829.14 94V615h0.4V94zM1831.41 94V615h0.4V94zM1833.68 94V615h0.4V94zM1835.94 94V615h0.4V94zM1838.21 94V615h0.4V94zM1840.47 94V615h0.4V94zM1842.74 94V615h0.4V94zM1845.01 94V615h0.4V94zM1847.27 94V615h0.4V94zM1849.54 94V615h0.4V94zM1851.81 94V615h0.4V94zM1854.07 94V615h0.4V94zM1856.34 94V615h0.4V94zM1858.61 94V615h0.4V94zM1860.87 94V615h0.4V94zM1863.14 94V615h0.4V94zM1865.40 94V615h0.4V94zM1867.67 94V615h0.4V94zM1869.94 94V615h0.4V94zM1872.20 94V615h0.4V94zM1874.47 94V615h0.4V94zM1876.74 94V615h0.4V94zM1879.00 94V615h0.4V94zM1881.27 94V615h0.4V94zM1883.54 94V615h0.4V94zM1885.80 94V615h0.4V94zM1888.07 94V615h0.4V94zM1890.34 94V615h0.4V94zM1892.60 94V615h0.4V94zM1894.87 94V615h0.4V94zM1897.13 94V615h0.4V94zM1899.40 94V615h0.4V94zM1901.67 94V615h0.4V94zM1903.93 94V615h0.4V94z" fill="#fff" fill-opacity="0.22" clip-path="url(#tc)"/>
<text x="1.0" y="665.2" font-size="19" font-weight="bold" fill="#000" text-anchor="start">Genetic Alteration</text>
<text x="1.0" y="743.7" font-size="19" font-weight="bold" fill="#000" text-anchor="start">Study of origin</text>
<text x="1.0" y="823.2" font-size="19" font-weight="bold" fill="#000" text-anchor="start">Profiled for copy number</text>
<text x="1.0" y="843.1" font-size="19" font-weight="bold" fill="#000" text-anchor="start">alterations</text>
<text x="1.0" y="914.2" font-size="19" font-weight="bold" fill="#000" text-anchor="start">H-PYLORI Infection</text>
<rect x="331.2" y="646.1" width="9.3" height="30.7" fill="#c0c0c0"/>
<rect x="331.2" y="656.0" width="9.3" height="11.0" fill="#5cb92e"/>
<text x="347.5" y="669.2" font-size="19" font-weight="normal" fill="#1a1a1a" text-anchor="start">Missense Mutation (unknown significance)</text>
<rect x="737.0" y="646.1" width="9.3" height="30.7" fill="#c0c0c0"/>
<rect x="737.0" y="656.0" width="9.3" height="11.0" fill="#6e7f8f"/>
<text x="753.6" y="669.2" font-size="19" font-weight="normal" fill="#1a1a1a" text-anchor="start">Truncating Mutation (unknown significance)</text>
<rect x="1151.0" y="646.1" width="9.3" height="30.7" fill="#e52421"/>
<text x="1167.8" y="669.2" font-size="19" font-weight="normal" fill="#1a1a1a" text-anchor="start">Amplification</text>
<rect x="1308.8" y="646.1" width="9.3" height="30.7" fill="#21479d"/>
<text x="1325.8" y="669.2" font-size="19" font-weight="normal" fill="#1a1a1a" text-anchor="start">Deep Deletion</text>
<rect x="1478.6" y="646.1" width="9.3" height="30.7" fill="#c0c0c0"/>
<text x="1495" y="669.2" font-size="19" font-weight="normal" fill="#1a1a1a" text-anchor="start">No alterations</text>
<rect x="331.4" y="724.6" width="9.3" height="31.4" fill="#3a67b3"/>
<text x="347.8" y="748.5" font-size="19" font-weight="normal" fill="#1a1a1a" text-anchor="start">Gastric Cancer (OncoSG, 2018)</text>
<rect x="650.6" y="724.6" width="9.3" height="31.4" fill="#d64320"/>
<text x="667.6" y="748.5" font-size="19" font-weight="normal" fill="#1a1a1a" text-anchor="start">Stomach Adenocarcinoma (TCGA, Firehose Legacy)</text>
<rect x="331.4" y="803.7" width="9.3" height="30.7" fill="#2a9d79"/>
<text x="348" y="827" font-size="19" font-weight="normal" fill="#1a1a1a" text-anchor="start">Yes</text>
<rect x="411.7" y="818.5" width="8.7" height="1.2" fill="#adadad"/>
<text x="427.8" y="827" font-size="19" font-weight="normal" fill="#1a1a1a" text-anchor="start">No</text>
<rect x="331.4" y="895.3" width="9.3" height="31.1" fill="#d8641b"/>
<text x="348" y="920" font-size="19" font-weight="normal" fill="#1a1a1a" text-anchor="start">No</text>
<rect x="406.0" y="895.3" width="9.3" height="31.1" fill="#2a9d79"/>
<text x="422.2" y="920" font-size="19" font-weight="normal" fill="#1a1a1a" text-anchor="start">Yes</text>
<rect x="485.4" y="910.5" width="9.6" height="1.2" fill="#adadad"/>
<text x="502.3" y="920" font-size="19" font-weight="normal" fill="#1a1a1a" text-anchor="start">No data</text>
<line x1="2104" y1="397.9" x2="2173" y2="397.9" stroke="#e6e6e6" stroke-width="1" stroke-dasharray="5,4"/>
<line x1="2104" y1="306.2" x2="2173" y2="306.2" stroke="#e6e6e6" stroke-width="1" stroke-dasharray="5,4"/>
<line x1="2104" y1="214.5" x2="2173" y2="214.5" stroke="#e6e6e6" stroke-width="1" stroke-dasharray="5,4"/>
<line x1="2104" y1="122.8" x2="2173" y2="122.8" stroke="#e6e6e6" stroke-width="1" stroke-dasharray="5,4"/>
<rect x="2110.2" y="465.2" width="25.0" height="24.4" fill="#1b4a9e"/>
<rect x="2110.2" y="152.9" width="25.0" height="312.3" fill="#e5201b"/>
<rect x="2110.2" y="140.2" width="25.0" height="12.7" fill="#1f7a3c"/>
<rect x="2141.7" y="482.1" width="24.9" height="7.5" fill="#6b6c6c"/>
<rect x="2141.7" y="455.5" width="24.9" height="26.6" fill="#1b4a9e"/>
<rect x="2141.7" y="328.7" width="24.9" height="126.8" fill="#e5201b"/>
<rect x="2141.7" y="290.3" width="24.9" height="38.4" fill="#1f7a3c"/>
<line x1="2103.2" y1="114.9" x2="2103.2" y2="490.5" stroke="#333" stroke-width="1.5"/>
<line x1="2102.6" y1="490.4" x2="2174.3" y2="490.4" stroke="#8a8a8a" stroke-width="2.2"/>
<line x1="2098.4" y1="397.9" x2="2103.2" y2="397.9" stroke="#333" stroke-width="1.2"/>
<text x="2095.2" y="403.5" font-size="15" font-weight="normal" fill="#333" text-anchor="end" letter-spacing="0.6">5%</text>
<line x1="2098.4" y1="306.2" x2="2103.2" y2="306.2" stroke="#333" stroke-width="1.2"/>
<text x="2095.2" y="311.8" font-size="15" font-weight="normal" fill="#333" text-anchor="end" letter-spacing="0.6">10%</text>
<line x1="2098.4" y1="214.5" x2="2103.2" y2="214.5" stroke="#333" stroke-width="1.2"/>
<text x="2095.2" y="220.1" font-size="15" font-weight="normal" fill="#333" text-anchor="end" letter-spacing="0.6">15%</text>
<line x1="2098.4" y1="122.8" x2="2103.2" y2="122.8" stroke="#333" stroke-width="1.2"/>
<text x="2095.2" y="128.4" font-size="15" font-weight="normal" fill="#333" text-anchor="end" letter-spacing="0.6">20%</text>
<text x="0" y="0" font-size="15.5" font-weight="normal" fill="#333" text-anchor="middle" letter-spacing="0.35" transform="translate(2029.5,302.5) rotate(-90)">Alteration Frequency</text>
<text x="2101" y="515.2" font-size="15" font-weight="normal" fill="#333" text-anchor="end" letter-spacing="0.7">Mutation data</text>
<text x="2101" y="546.4" font-size="15" font-weight="normal" fill="#333" text-anchor="end" letter-spacing="0.7">CNA data</text>
<path d="M2117.1 509.2H2127.7M2122.4 503.9V514.5" stroke="#000" stroke-width="3.2"/>
<path d="M2117.1 540.8H2127.7M2122.4 535.5V546.1" stroke="#000" stroke-width="3.2"/>
<path d="M2148.7 509.2H2159.3M2154.0 503.9V514.5" stroke="#000" stroke-width="3.2"/>
<path d="M2148.7 540.8H2159.3M2154.0 535.5V546.1" stroke="#000" stroke-width="3.2"/>
<text x="0" y="0" font-size="16" font-weight="normal" fill="#333" text-anchor="start" transform="translate(2114,571.6) rotate(50)">Gastric Cancer (OncoSG, 2018)</text>
<text x="0" y="0" font-size="16" font-weight="normal" fill="#333" text-anchor="start" transform="translate(2147,574.5) rotate(50)">Stomach Adenocarcinoma (TCGA, Firehose Legacy)</text>
<circle cx="1927.7" cy="902" r="4.3" fill="#1f7a3c" stroke="#333" stroke-width="0.9"/>
<text x="1945.6" y="908.1" font-size="15.5" font-weight="normal" fill="#444" text-anchor="start" letter-spacing="0.45">Mutation</text>
<circle cx="2035.1" cy="902" r="4.3" fill="#e5201b" stroke="#333" stroke-width="0.9"/>
<text x="2053.4" y="908.1" font-size="15.5" font-weight="normal" fill="#444" text-anchor="start" letter-spacing="0.45">Amplification</text>
<circle cx="2188" cy="902" r="4.3" fill="#1b4a9e" stroke="#333" stroke-width="0.9"/>
<text x="2206.4" y="908.1" font-size="15.5" font-weight="normal" fill="#444" text-anchor="start" letter-spacing="0.45">Deep Deletion</text>
<circle cx="2340.7" cy="902" r="4.3" fill="#6b6c6c" stroke="#333" stroke-width="0.9"/>
<text x="2358.6" y="908.1" font-size="15.5" font-weight="normal" fill="#444" text-anchor="start" letter-spacing="0.45">Multiple Alterations</text>
</svg>
</body></html>
